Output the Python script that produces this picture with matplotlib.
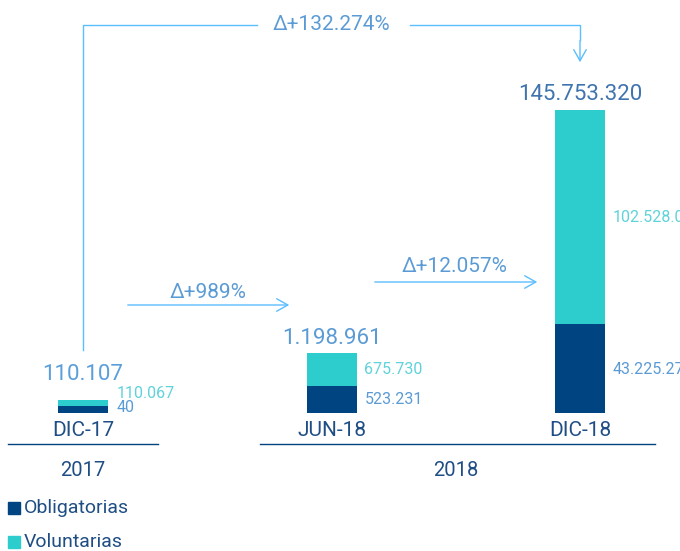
import matplotlib
matplotlib.use("Agg")
import matplotlib.pyplot as plt
from matplotlib.patches import Rectangle

# data
categories = ["DIC-17", "JUN-18", "DIC-18"]
years = ["2017", "2018"]
obligatorias = [40, 523231, 43225278]
voluntarias = [110067, 675730, 102528042]
totals = [110107, 1198961, 145753320]
deltas = ["Δ+989%", "Δ+12.057%", "Δ+132.274%"]
# the chart is not drawn to scale: visual bar heights (illustrative units)
vis_oblig = [7, 27, 89]
vis_volun = [6, 33, 214]

NAVY = "#004481"
CYAN = "#2DCCCD"
ARROW = "#5BBEFF"
LBLUE = "#5B9BD5"
LCYAN = "#5FD3DA"
TXT_NAVY = "#1F4E85"
total_colors = ["#5B9FDA", "#5B9BD5", "#3F74AE"]

plt.rcParams["font.family"] = ["Roboto", "DejaVu Sans"]


def fmt(v):
    return f"{v:,}".replace(",", ".")


def py(y_px):
    # pixel row from top -> data y (baseline of bars at row 413)
    return 413 - y_px


fig = plt.figure(figsize=(6.8, 5.51), dpi=100)
ax = fig.add_axes([0, 0, 1, 1])
step = 248.5
ax.set_xlim(-83 / step, (680 - 83) / step)
ax.set_ylim(py(551), py(0))
ax.axis("off")

x = [0, 1, 2]
width = 50 / step
ax.bar(x, vis_oblig, width=width, color=NAVY)
ax.bar(x, vis_volun, width=width, bottom=vis_oblig, color=CYAN)

dx = 1 / step  # one pixel in x
for i in x:
    top = vis_oblig[i] + vis_volun[i]
    ty = max(top + 15, py(375))
    ax.text(i, ty, fmt(totals[i]), ha="center", va="center",
            fontsize=16, color=total_colors[i])
    ax.text(i, py(431), categories[i], ha="center", va="center",
            fontsize=15, color=TXT_NAVY)

# segment labels
lab = dict(ha="left", va="center", fontsize=11.5)
ax.text(34 * dx, py(393), fmt(voluntarias[0]), color=LCYAN, **lab)
ax.text(34 * dx, py(408), fmt(obligatorias[0]), color=LBLUE, **lab)
for i in [1, 2]:
    ax.text(i + 33 * dx, vis_oblig[i] + vis_volun[i] / 2, fmt(voluntarias[i]),
            color=LCYAN, **lab)
    ax.text(i + 33 * dx, vis_oblig[i] / 2 if i == 1 else py(370), fmt(obligatorias[i]),
            color=LBLUE, **lab)

# group underlines and years
ax.plot([-75 * dx, 75 * dx], [py(444), py(444)], color=NAVY, lw=1)
ax.plot([1 - 72 * dx, 2 + 75 * dx], [py(444), py(444)], color=NAVY, lw=1)
ax.text(0, py(470), years[0], ha="center", va="center", fontsize=14.5, color=TXT_NAVY)
ax.text(1.5, py(470), years[1], ha="center", va="center", fontsize=14.5, color=TXT_NAVY)

# delta arrows
arrow_kw = dict(arrowstyle="->,head_length=0.8,head_width=0.45", color=ARROW, lw=1)
dlab = dict(ha="center", va="center", fontsize=15, color=LBLUE)
ax.annotate("", xy=(292 / step - 83 / step, py(305)), xytext=(125 / step - 83 / step, py(305)),
            arrowprops=arrow_kw)
ax.text(208 / step - 83 / step, py(293), deltas[0], **dlab)
ax.annotate("", xy=(540 / step - 83 / step, py(282)), xytext=(372 / step - 83 / step, py(282)),
            arrowprops=arrow_kw)
ax.text(455 / step - 83 / step, py(267), deltas[1], **dlab)

# long arrow DIC-17 -> DIC-18
ax.plot([0, 0, 174 * dx], [py(350), py(25), py(25)], color=ARROW, lw=1)
ax.plot([327 * dx, 2, 2], [py(25), py(25), py(40)], color=ARROW, lw=1)
ax.annotate("", xy=(2, py(65)), xytext=(2, py(38)), arrowprops=arrow_kw)
ax.text(1, py(25), deltas[2], **dlab)

# legend
for j, (name, col) in enumerate([("Obligatorias", NAVY), ("Voluntarias", CYAN)]):
    yc = py(508 + 34 * j)
    ax.add_patch(Rectangle((-75 * dx, yc - 6), 12 * dx, 12, color=col))
    ax.text(-59 * dx, yc, name, ha="left", va="center", fontsize=14, color=TXT_NAVY)

fig.savefig("out.png", dpi=100)
